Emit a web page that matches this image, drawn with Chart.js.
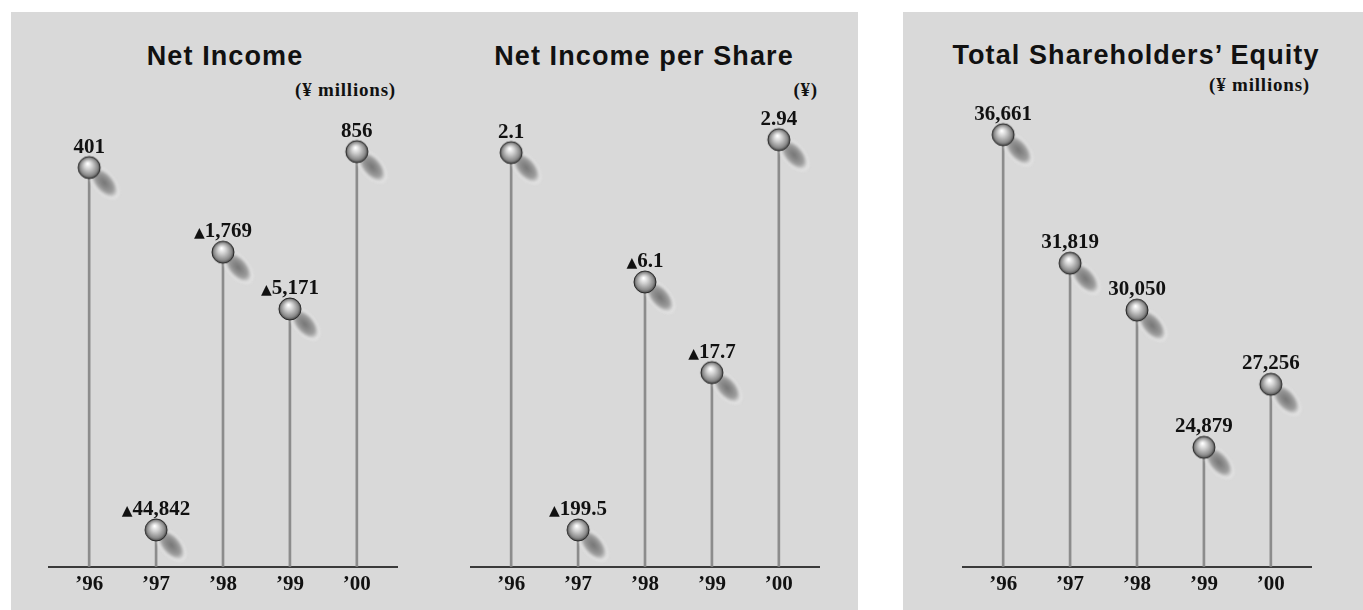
<!DOCTYPE html>
<html>
<head>
<meta charset="utf-8">
<script src="https://cdn.jsdelivr.net/npm/chart.js@4.4.1/dist/chart.umd.min.js"></script>
<style>
  html, body { margin: 0; padding: 0; background: #ffffff; }
  body { width: 1363px; height: 610px; position: relative; overflow: hidden; }
  .panel { position: absolute; background: #d9d9d9; }
  .title { position: absolute; font-family: "Liberation Sans", Arial, sans-serif; font-weight: bold;
           font-size: 27px; line-height: 27px; letter-spacing: 1.1px; color: #111; text-align: center; white-space: nowrap; }
  .unit { position: absolute; font-family: "Liberation Serif", "Times New Roman", serif; font-weight: bold;
          font-size: 19px; line-height: 19px; letter-spacing: 0.8px; color: #111; text-align: right; white-space: nowrap; }
  canvas { position: absolute; }
</style>
</head>
<body>
<div class="panel" style="left:11px; top:12px; width:847px; height:598px;"></div>
<div class="panel" style="left:903px; top:12px; width:460px; height:598px;"></div>

<div class="title" style="left:75px; width:300px; top:43px;">Net Income</div>
<div class="unit" style="left:245px; width:151px; top:80px;">(¥ millions)</div>

<div class="title" style="left:474px; width:340px; top:43px;">Net Income per Share</div>
<div class="unit" style="left:700px; width:118px; top:80px;">(¥)</div>

<div class="title" style="left:936px; width:400px; top:42px;">Total Shareholders’ Equity</div>
<div class="unit" style="left:1150px; width:160px; top:75px;">(¥ millions)</div>

<canvas id="c1" width="430" height="598" style="left:11px; top:12px;"></canvas>
<canvas id="c2" width="417" height="598" style="left:441px; top:12px;"></canvas>
<canvas id="c3" width="460" height="598" style="left:903px; top:12px;"></canvas>

<script>
// ---------- data ----------
const years = ['’96', '’97', '’98', '’99', '’00'];

// Net Income (¥ millions); ▲ = loss. The original drawing is not to scale,
// so the stem heights are read off the picture (percent of plot height).
const netIncomeLabels  = ['401', '▲44,842', '▲1,769', '▲5,171', '856'];
const netIncomeHeights = [80.2, 7.4, 63.2, 51.8, 83.4];

// Net Income per Share (¥)
const epsLabels  = ['2.1', '▲199.5', '▲6.1', '▲17.7', '2.94'];
const epsHeights = [83.2, 7.4, 57.2, 39.0, 85.8];

// Total Shareholders' Equity (¥ millions), drawn to scale on a truncated axis
const equityValues = [36661, 31819, 30050, 24879, 27256];
const equityAxisMin = 20376;
const equityAxisMax = 39138;

// ---------- sphere marker ----------
function makeSphere() {
  const S = 84, c = document.createElement('canvas');
  c.width = S; c.height = S;
  const g = c.getContext('2d');
  const cx = S / 2, cy = S / 2, r = 11;
  // soft shadow
  g.save();
  g.filter = 'blur(1.2px)';
  g.translate(cx + 15, cy + 15);
  g.rotate(0.86);
  g.scale(1, 0.54);
  const sg = g.createRadialGradient(0, 0, 0, 0, 0, 21);
  sg.addColorStop(0, 'rgba(115,115,115,1)');
  sg.addColorStop(0.55, 'rgba(150,150,150,0.95)');
  sg.addColorStop(0.85, 'rgba(228,228,228,0.95)');
  sg.addColorStop(1, 'rgba(235,235,235,0)');
  g.fillStyle = sg;
  g.beginPath(); g.arc(0, 0, 21, 0, Math.PI * 2); g.fill();
  g.restore();
  // ball
  const rg = g.createRadialGradient(cx - 1.5, cy - 4, 0.5, cx, cy, r);
  rg.addColorStop(0, '#ffffff');
  rg.addColorStop(0.35, '#d0d0d0');
  rg.addColorStop(0.8, '#8a8a8a');
  rg.addColorStop(1, '#4a4a4a');
  g.fillStyle = rg;
  g.beginPath(); g.arc(cx, cy, r, 0, Math.PI * 2); g.fill();
  g.lineWidth = 1; g.strokeStyle = '#262626'; g.stroke();
  return c;
}
const sphere = makeSphere();

// ---------- value labels ----------
const valueLabelPlugin = {
  id: 'valueLabels',
  afterDatasetsDraw(chart, args, opts) {
    const ctx = chart.ctx;
    const meta = chart.getDatasetMeta(0);
    ctx.save();
    ctx.fillStyle = '#111';
    ctx.textBaseline = 'alphabetic';
    ctx.textAlign = 'left';
    const numFont = 'bold 21px "Liberation Serif", "Times New Roman", serif';
    const triFont = '14px "DejaVu Sans", sans-serif';
    meta.data.forEach((pt, i) => {
      let txt = opts.labels[i];
      let tri = '';
      if (txt.startsWith('▲')) { tri = '▲'; txt = txt.slice(1); }
      ctx.font = numFont;
      const nw = ctx.measureText(txt).width;
      ctx.font = triFont;
      const tw = tri ? ctx.measureText(tri).width : 0;
      const x0 = pt.x - (nw + tw) / 2;
      const yb = pt.y - 15;
      if (tri) { ctx.font = triFont; ctx.fillText(tri, x0, yb); }
      ctx.font = numFont;
      ctx.fillText(txt, x0 + tw, yb);
    });
    ctx.restore();
  }
};

function makeChart(id, heights, labels, yMin, yMax, padL, padR) {
  const pts = heights.map((h, i) => ({ x: i, y: h }));
  return new Chart(document.getElementById(id), {
    type: 'bar',
    data: {
      datasets: [
        { type: 'scatter', data: pts, pointStyle: sphere, pointRadius: 11, order: 0, clip: false },
        { type: 'bar', data: pts, backgroundColor: '#8c8c8c', barThickness: 2, order: 1 }
      ]
    },
    options: {
      responsive: false,
      animation: false,
      events: [],
      layout: { padding: { left: padL, right: padR, top: 57, bottom: 8 } },
      plugins: {
        legend: { display: false },
        tooltip: { enabled: false },
        valueLabels: { labels: labels }
      },
      scales: {
        x: {
          type: 'linear', min: -0.6, max: 4.6, offset: false,
          afterBuildTicks: s => { s.ticks = years.map((_, i) => ({ value: i })); },
          grid: { display: false, drawTicks: false },
          border: { display: true, color: '#3a3a3a', width: 2 },
          ticks: {
            autoSkip: false, maxRotation: 0, padding: 5, color: '#111',
            font: { family: '"Liberation Serif", "Times New Roman", serif', size: 21, weight: 'bold' },
            callback: v => years[v]
          }
        },
        y: { display: false, min: yMin, max: yMax }
      }
    },
    plugins: [valueLabelPlugin]
  });
}

makeChart('c1', netIncomeHeights, netIncomeLabels, 0, 100, 38, 44);
makeChart('c2', epsHeights, epsLabels, 0, 100, 30, 39);
makeChart('c3', equityValues, equityValues.map(v => v.toLocaleString('en-US')), equityAxisMin, equityAxisMax, 60, 52);
</script>
</body>
</html>
